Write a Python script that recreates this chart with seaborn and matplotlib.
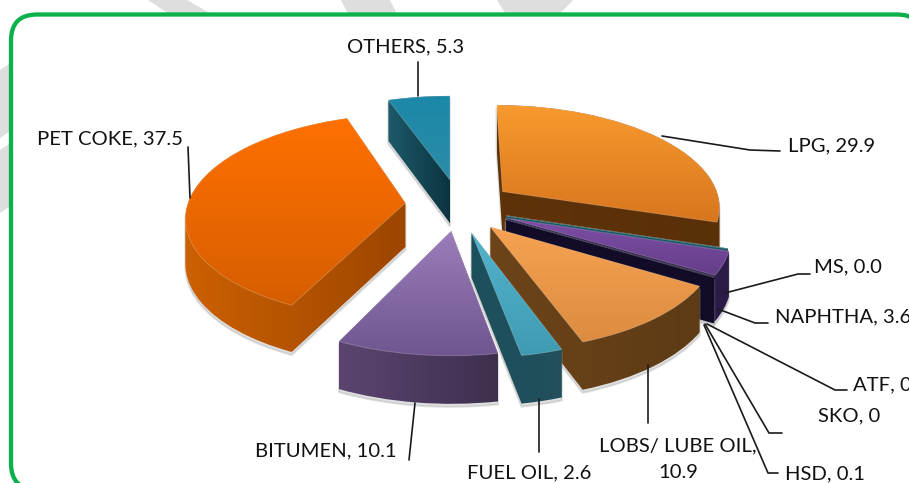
import numpy as np
import matplotlib
matplotlib.use("Agg")
import matplotlib.pyplot as plt
import seaborn as sns
from matplotlib.patches import FancyBboxPatch, Polygon
from matplotlib.transforms import Transform

# Values (MS prints as 0.0 but still has a sliver)
products = ["LPG", "MS", "NAPHTHA", "ATF", "SKO", "HSD", "LOBS", "FUEL OIL", "BITUMEN", "PET COKE", "OTHERS"]
shares = [29.9, 0.04, 3.6, 0.0, 0.0, 0.1, 10.9, 2.6, 10.1, 37.5, 5.3]
label_texts = ["LPG, 29.9", "MS, 0.0", "NAPHTHA, 3.6", "ATF, 0", "SKO, 0", "HSD, 0.1",
               "LOBS/ LUBE OIL,\n10.9", "FUEL OIL, 2.6", "BITUMEN, 10.1", "PET COKE, 37.5", "OTHERS, 5.3"]

# Look of each slice: top surface (back to front), side (left to right)
top_colors = {
    "LPG": ["#f89a2e", "#d8761e"], "MS": ["#1b5a68", "#1b5a68"], "NAPHTHA": ["#7f4ea6", "#653f8a"],
    "ATF": ["#000000", "#000000"], "SKO": ["#000000", "#000000"], "HSD": ["#120c28", "#120c28"],
    "LOBS": ["#f7a252", "#dc8c40"], "FUEL OIL": ["#52b3ca", "#3f9bb2"], "BITUMEN": ["#9b7dba", "#6f5690"],
    "PET COKE": ["#ff7000", "#d65e00"], "OTHERS": ["#1c88a8", "#2b8ca8"],
}
side_colors = {
    "LPG": ["#5f3308", "#5a3008"], "MS": ["#1b5a68", "#1b5a68"], "NAPHTHA": ["#1c1236", "#2c1c48"],
    "ATF": ["#000000", "#000000"], "SKO": ["#000000", "#000000"], "HSD": ["#120c28", "#120c28"],
    "LOBS": ["#6e4419", "#5c3b15"], "FUEL OIL": ["#1c4f5c", "#22505c"], "BITUMEN": ["#5b4570", "#3e2f4e"],
    "PET COKE": ["#cc6002", "#9c4600"], "OTHERS": ["#1d5a6a", "#0c3440"],
}

# How far each slice is pulled out, in pie radii
pull_out = {
    "LPG": (0.245, 0.135), "MS": (0.255, -0.105), "NAPHTHA": (0.255, -0.128), "ATF": (0.25, -0.14),
    "SKO": (0.25, -0.14), "HSD": (0.25, -0.14), "LOBS": (0.18, -0.212), "FUEL OIL": (0.095, -0.265),
    "BITUMEN": (0.005, -0.25), "PET COKE": (-0.205, 0.02), "OTHERS": (0.0, 0.256),
}
draw_order = ["OTHERS", "LPG", "MS", "NAPHTHA", "HSD", "LOBS", "PET COKE", "BITUMEN", "FUEL OIL"]

# Fake 3D camera, fitted against the picture
CX, CY, RX, RY, TILT, DEPTH = 450, 205, 218, 101, 0.13, 44


class Camera(Transform):
    input_dims = 2
    output_dims = 2

    def __init__(self, du, dv, z):
        super().__init__()
        self.du, self.dv, self.z = du, dv, z

    def transform_non_affine(self, xy):
        xy = np.asarray(xy, dtype=float)
        u = xy[:, 0] + self.du
        v = xy[:, 1] + self.dv
        s = 1 / (1 + TILT * v)
        return np.column_stack([CX + RX * u * s, CY - RY * v * s + DEPTH * np.sqrt(s) * self.z])


def hull(points):
    pts = sorted(set(map(tuple, np.round(points, 3))))
    def half(seq):
        out = []
        for p in seq:
            while len(out) > 1 and (out[-1][0] - out[-2][0]) * (p[1] - out[-2][1]) - (out[-1][1] - out[-2][1]) * (p[0] - out[-2][0]) <= 0:
                out.pop()
            out.append(p)
        return out[:-1]
    return np.array(half(pts) + half(pts[::-1]))


def gradient_fill(ax, colors, clip, box, vertical, zorder):
    cmap = sns.blend_palette(colors, as_cmap=True)
    ramp = np.linspace(0, 1, 128)
    ramp = ramp[:, None] if vertical else ramp[None, :]
    x0, y0, x1, y1 = box
    im = ax.imshow(ramp, cmap=cmap, vmin=0, vmax=1, extent=(x0, x1, y1, y0), origin="upper",
                   aspect="auto", zorder=zorder, interpolation="bilinear")
    im.set_clip_path(clip)


sns.set_theme(style="white")
plt.rcParams["font.family"] = ["Lato", "DejaVu Sans"]

fig = plt.figure(figsize=(9.09, 4.83), dpi=100)
ax = fig.add_axes([0, 0, 1, 1])

# Slide's watermark stripes behind the frame
for stripe in [[(148, 0), (187, 0), (215, 16), (172, 16)], [(341, 0), (390, 0), (398, 16), (349, 16)],
               [(497, 0), (573, 0), (558, 16), (507, 16)],
               [(0, 70), (12, 62), (12, 130), (0, 138)], [(0, 150), (12, 142), (12, 205), (0, 213)]]:
    ax.add_patch(Polygon(stripe, closed=True, facecolor="#dedede", edgecolor="none", zorder=0))

# Green rounded frame, runs off the right and bottom of the slide
ax.add_patch(FancyBboxPatch((37, 40.5), 860, 423, boxstyle="round,pad=26,rounding_size=26",
                            facecolor="white", edgecolor="#0db14b", linewidth=3.1, zorder=1, clip_on=False))

wedges, _ = ax.pie(shares, startangle=90, counterclock=False, radius=1)

for product, wedge in zip(products, wedges):
    wedge.set_visible(False)
    if product not in draw_order:
        continue
    rank = 2 + draw_order.index(product)
    du, dv = pull_out[product]

    # Agg clips with straight segments, so flatten the curved rim in pixel space
    top = Camera(du, dv, 0).transform_path(wedge.get_path()).to_polygons(closed_only=False)[0]
    bottom = Camera(du, dv, 1).transform_path(wedge.get_path()).to_polygons(closed_only=False)[0]
    body = hull(np.vstack([top, bottom]))

    # soft shadow under the extruded slice
    ax.add_patch(Polygon(body + [0, 3], closed=True, facecolor="#9a9a9a", edgecolor="#9a9a9a",
                         linewidth=1.5, alpha=0.3, zorder=rank))

    body_patch = Polygon(body, closed=True, facecolor="none", edgecolor="none", zorder=rank)
    ax.add_patch(body_patch)
    gradient_fill(ax, side_colors[product], body_patch,
                  (body[:, 0].min(), body[:, 1].min(), body[:, 0].max(), body[:, 1].max()), False, rank + 0.2)

    top_patch = Polygon(top, closed=True, facecolor="none", edgecolor="none", zorder=rank + 0.3)
    ax.add_patch(top_patch)
    gradient_fill(ax, top_colors[product], top_patch,
                  (top[:, 0].min(), top[:, 1].min(), top[:, 0].max(), top[:, 1].max()), True, rank + 0.4)
    # faint bevel round the top face
    ax.add_patch(Polygon(top, closed=True, facecolor="none", edgecolor="white", linewidth=0.7,
                         alpha=0.22, zorder=rank + 0.5))

# Leader lines
leaders = [
    [(662, 136), (750, 150), (780, 151)],
    [(725, 293), (798, 274), (810, 274)],
    [(718, 309), (755, 323), (768, 323)],
    [(707, 324), (835, 390), (847, 390)],
    [(705, 324), (769, 433), (782, 433)],
    [(704, 325), (768, 473), (778, 473)],
    [(648, 365), (648, 423)],
    [(539, 399), (539, 452)],
    [(415, 403), (409, 460)],
    [(190, 198), (188, 147)],
    [(418, 96), (418, 62)],
]
for line in leaders:
    xs, ys = zip(*line)
    ax.plot(xs, ys, color="#1a1a1a", linewidth=1.2, zorder=20)

# Data labels
label_spots = [(788, 146, "left"), (814, 267, "left"), (775, 317, "left"), (853, 385, "left"),
               (818, 416, "left"), (785, 474, "left"), (678, 459, "center"), (467, 473, "left"),
               (255, 451, "left"), (37, 139, "left"), (347, 47, "left")]
for text, (x, y, ha) in zip(label_texts, label_spots):
    ax.text(x, y, text, ha=ha, va="center", fontsize=14.6, color="#111111", zorder=21,
            linespacing=1.7, clip_on=False)

ax.set_aspect("auto")
ax.set_xlim(0, 909)
ax.set_ylim(483, 0)
ax.axis("off")

fig.savefig("out.png", dpi=100)
